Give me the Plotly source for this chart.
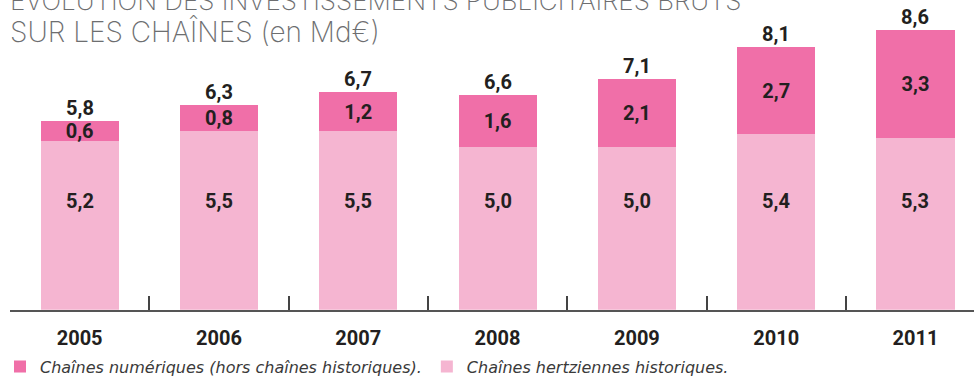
import plotly.graph_objects as go

# Gross TV advertising investment by channel group (billions of euros)
years = ["2005", "2006", "2007", "2008", "2009", "2010", "2011"]
hertziennes = [5.2, 5.5, 5.5, 5.0, 5.0, 5.4, 5.3]
numeriques = [0.6, 0.8, 1.2, 1.6, 2.1, 2.7, 3.3]
totaux = [5.8, 6.3, 6.7, 6.6, 7.1, 8.1, 8.6]

title_line1 = "ÉVOLUTION DES INVESTISSEMENTS PUBLICITAIRES BRUTS"
title_line2 = "SUR LES CHAÎNES (en Md€)"
name_num = "Chaînes numériques (hors chaînes historiques)."
name_hertz = "Chaînes hertziennes historiques."

COL_HERTZ = "#f5b5d1"
COL_NUM = "#f06fa8"
TXT = "#231f20"
NUM_FONT = "Roboto"
TITLE_FONT = "Inter"
NUM_SIZE = 20


def fr(v):
    return f"{v:.1f}".replace(".", ",")


fig = go.Figure()
fig.add_trace(go.Bar(
    x=years, y=hertziennes, name=name_hertz,
    marker=dict(color=COL_HERTZ, line=dict(width=0)),
    width=0.56, hoverinfo="skip",
))
fig.add_trace(go.Bar(
    x=years, y=numeriques, name=name_num,
    marker=dict(color=COL_NUM, line=dict(width=0)),
    width=0.56, hoverinfo="skip",
    text=[fr(v) for v in numeriques],
    textposition="inside", insidetextanchor="middle", textangle=0,
    textfont=dict(family=NUM_FONT, size=NUM_SIZE, color=TXT, weight="bold"),
))

annotations = []
# historic-channel values sit at a common height inside the lower segments
# (category positions given by index, since the names look numeric)
for i, v in enumerate(hertziennes):
    annotations.append(dict(
        x=i, y=3.35, xref="x", yref="y", text=fr(v), showarrow=False,
        font=dict(family=NUM_FONT, size=NUM_SIZE, color=TXT, weight="bold"),
        xanchor="center", yanchor="middle",
    ))
# totals above each stacked bar
for i, v in enumerate(totaux):
    annotations.append(dict(
        x=i, y=v, xref="x", yref="y", text=fr(v), showarrow=False,
        font=dict(family=NUM_FONT, size=NUM_SIZE, color=TXT, weight="bold"),
        xanchor="center", yanchor="middle", yshift=13,
    ))
# two-line heading, top line partly beyond the frame
annotations.append(dict(
    x=0, y=1.0, xref="paper", yref="paper", text=title_line1, showarrow=False,
    font=dict(family=TITLE_FONT, size=26, color="#6d6e70", weight=200),
    xanchor="left", yanchor="middle", xshift=-2, yshift=0,
))
annotations.append(dict(
    x=0, y=1.0, xref="paper", yref="paper", text=title_line2, showarrow=False,
    font=dict(family=TITLE_FONT, size=28, color="#6d6e70", weight=200),
    xanchor="left", yanchor="middle", xshift=-2, yshift=-31,
))

fig.update_layout(
    width=974, height=376,
    margin=dict(l=10, r=0, t=0, b=58),
    paper_bgcolor="white", plot_bgcolor="white",
    barmode="stack",
    showlegend=True,
    legend=dict(
        orientation="h", traceorder="reversed",
        x=0.0, xanchor="left", xref="container",
        y=0.025, yanchor="middle", yref="container",
        font=dict(family="DejaVu Sans", size=16, color="#3a3a3a", style="italic"),
        bgcolor="rgba(0,0,0,0)", itemclick=False, itemdoubleclick=False,
    ),
    uniformtext=dict(minsize=NUM_SIZE, mode="show"),
    annotations=annotations,
    xaxis=dict(
        type="category", range=[-0.5, 6.42],
        showline=True, linecolor="#555555", linewidth=1.5,
        ticks="inside", tickson="boundaries", ticklen=14,
        tickcolor="#444444", tickwidth=1.5,
        ticklabelstandoff=9,
        tickfont=dict(family=NUM_FONT, size=NUM_SIZE, color=TXT, weight="bold"),
        showgrid=False, zeroline=False, fixedrange=True,
    ),
    yaxis=dict(
        range=[0, 9.535], visible=False, showgrid=False, zeroline=False,
        fixedrange=True,
    ),
)

fig.write_html("out.html")
